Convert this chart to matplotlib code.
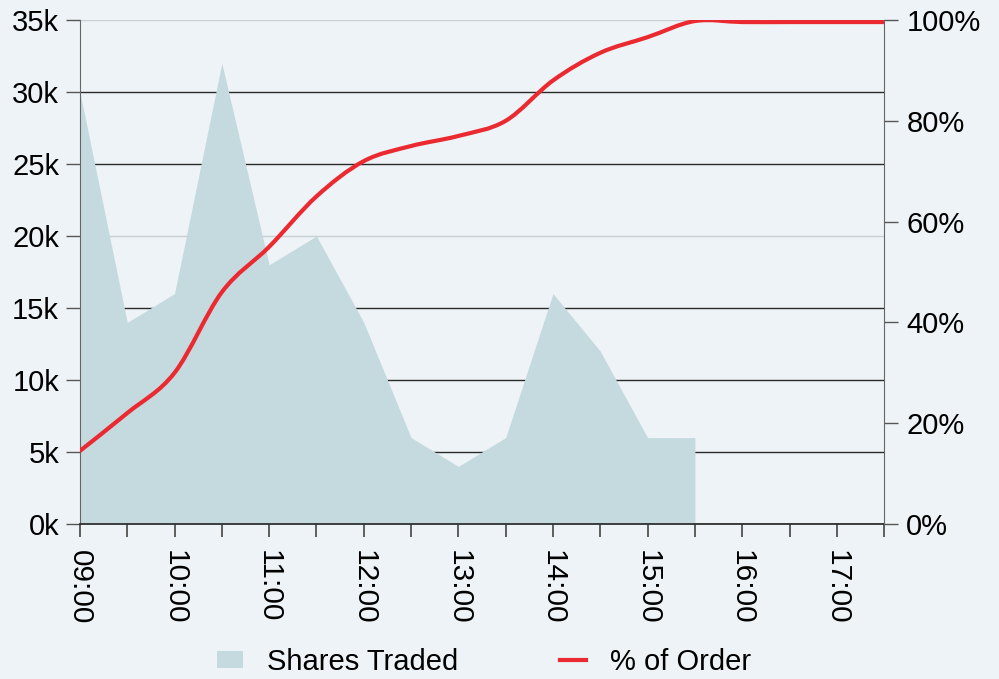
import numpy as np
import matplotlib
matplotlib.use("Agg")
import matplotlib.pyplot as plt
from matplotlib.path import Path
from matplotlib.patches import PathPatch, Patch
from matplotlib.lines import Line2D

plt.rcParams['font.family'] = ['Liberation Sans', 'DejaVu Sans']

# half-hour slots, in hours since midnight
times = [9.0, 9.5, 10.0, 10.5, 11.0, 11.5, 12.0, 12.5, 13.0, 13.5, 14.0, 14.5, 15.0, 15.5]
shares = [30000, 14000, 16000, 32000, 18000, 20000, 14000, 6000, 4000, 6000, 16000, 12000, 6000, 6000]

pct_times = [9.0, 9.5, 10.0, 10.5, 11.0, 11.5, 12.0, 12.5, 13.0, 13.5, 14.0, 14.5,
             15.0, 15.5, 16.0, 16.5, 17.0, 17.5]
pct_order = [14.5, 22, 30, 46, 55, 65, 72, 75, 77, 80, 88, 93.5, 96.6, 99.8,
             99.6, 99.6, 99.6, 99.6]

hour_ticks = [9, 10, 11, 12, 13, 14, 15, 16, 17]
hour_labels = ["09:00", "10:00", "11:00", "12:00", "13:00", "14:00", "15:00", "16:00", "17:00"]
left_ticks = [0, 5000, 10000, 15000, 20000, 25000, 30000, 35000]
left_labels = ["0k", "5k", "10k", "15k", "20k", "25k", "30k", "35k"]
right_ticks = [0, 20, 40, 60, 80, 100]
right_labels = ["0%", "20%", "40%", "60%", "80%", "100%"]

bg = "#edf3f6"
area_col = "#c5dadf"
red = "#ea2a30"
fs = 21

fig = plt.figure(figsize=(9.99, 6.79), dpi=100, facecolor=bg)
ax = fig.add_axes([0.080, 0.2283, 0.805, 0.7422])
ax.set_facecolor("none")

# shares traded area
ax.fill_between(times, shares, 0, color=area_col, lw=0, zorder=2)
ax.set_xlim(9, 17.5)
ax.set_ylim(0, 35000)
ax.set_yticks(left_ticks)
ax.set_yticklabels(left_labels)
ax.set_xticks(hour_ticks)
ax.set_xticklabels(hour_labels, rotation=-90, va="top", ha="center")
ax.set_xticks(np.arange(9.5, 17.6, 1.0), minor=True)
ax.tick_params(axis="x", which="both", length=9, width=1.2, color="#444", pad=10, labelsize=fs + 0.5)
ax.tick_params(axis="y", length=10, width=1, color="#555", pad=5, labelsize=fs)

ax.yaxis.grid(True, color="#2a2a2a", lw=1.0, zorder=1)
ax.set_axisbelow(True)
grid_cols = ["#2a2a2a", "#2a2a2a", "#2a2a2a", "#2a2a2a", "#c8d0d4", "#2a2a2a", "#2a2a2a", "#c8d0d4"]
for gl, c in zip(ax.get_ygridlines(), grid_cols):
    gl.set_color(c)

for s in ["top", "right"]:
    ax.spines[s].set_visible(False)
ax.spines["left"].set_color("#666")
ax.spines["bottom"].set_color("#222")
ax.spines["bottom"].set_linewidth(1.2)

# % of order line on right axis
ax2 = ax.twinx()
ax2.set_ylim(0, 100)
ax2.set_yticks(right_ticks)
ax2.set_yticklabels(right_labels)
ax2.tick_params(axis="y", length=10, width=1, color="#555", pad=6, labelsize=fs)
for s in ["top", "left", "bottom"]:
    ax2.spines[s].set_visible(False)
ax2.spines["right"].set_color("#666")

# smooth curve through the points (Catmull-Rom as cubic Bezier)
pts = np.column_stack([pct_times, pct_order])
ext = np.vstack([pts[0], pts, pts[-1]])
verts = [tuple(pts[0])]
codes = [Path.MOVETO]
for i in range(1, len(ext) - 2):
    p0, p1, p2, p3 = ext[i - 1], ext[i], ext[i + 1], ext[i + 2]
    c1 = p1 + (p2 - p0) / 6.0
    c2 = p2 - (p3 - p1) / 6.0
    verts += [tuple(c1), tuple(c2), tuple(p2)]
    codes += [Path.CURVE4] * 3
ax2.add_patch(PathPatch(Path(verts, codes), fill=False, ec=red, lw=3,
                        capstyle="round", joinstyle="round", zorder=5))

handles = [Patch(facecolor=area_col, edgecolor="none"),
           Line2D([], [], color=red, lw=3)]
fig.legend(handles, ["Shares Traded", "% of Order"], loc="center",
           bbox_to_anchor=(0.4845, 0.025), ncol=2, frameon=False, fontsize=fs,
           handlelength=0.9, handleheight=0.55, handletextpad=0.8, columnspacing=3.5)

fig.savefig("out.png", dpi=100, facecolor=bg)
